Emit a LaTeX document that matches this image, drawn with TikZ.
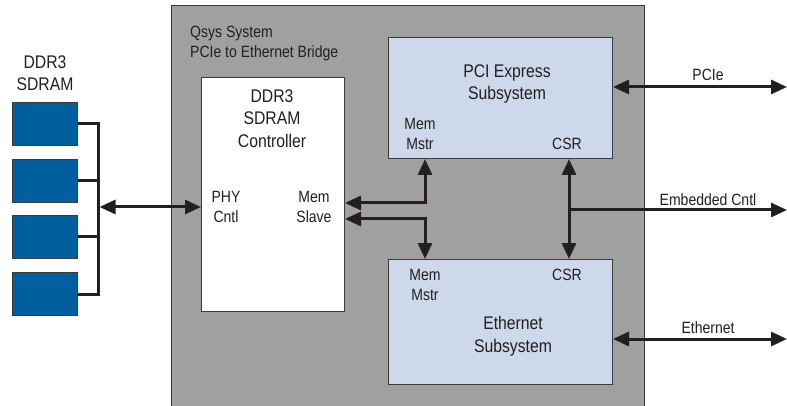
\documentclass[tikz,border=0pt]{standalone}
\usepackage{fontspec}
\setmainfont{Liberation Sans}[FakeStretch=0.86]
\usetikzlibrary{arrows.meta}
\definecolor{qgray}{HTML}{A0A0A0}
\definecolor{chipblue}{HTML}{005F9E}
\definecolor{subblue}{HTML}{CDD8EA}
\definecolor{ink}{HTML}{231F20}
\definecolor{edge}{HTML}{3A3A3A}
\begin{document}
\begin{tikzpicture}[x=1pt,y=-1pt,
  boxstyle/.style={draw=edge,line width=1pt,anchor=north west,inner sep=0pt},
  chip/.style={boxstyle,fill=chipblue,minimum width=65pt,minimum height=43pt},
  title/.style={font=\fontsize{18.3}{22.5}\selectfont,align=center,inner sep=0pt,text=ink},
  lbl/.style={font=\fontsize{16.3}{20}\selectfont,align=center,inner sep=0pt,text=ink},
  conn/.style={draw=ink,line width=3pt,{Triangle[length=16pt,width=14pt]}-{Triangle[length=16pt,width=14pt]}},
  connr/.style={draw=ink,line width=3pt,-{Triangle[length=16pt,width=14pt]}},
  bus/.style={draw=ink,line width=3pt,line cap=rect}]
\useasboundingbox (0,0) rectangle (787,406);
\fill[white] (0,0) rectangle (787,406);
% Qsys system
\node[boxstyle,fill=qgray,minimum width=473pt,minimum height=460pt] (qsys) at (171,5) {};
\node[lbl,align=left,anchor=west] (qsystxt) at (190,44) {Qsys System\\PCIe to Ethernet Bridge};
% controller
\node[boxstyle,fill=white,minimum width=143pt,minimum height=234pt] (ctrl) at (201,77) {};
\node[title] (ctrltxt) at (272,118.5) {DDR3\\SDRAM\\Controller};
\node[lbl] (phy) at (226,207) {PHY\\Cntl};
\node[lbl] (memslave) at (314,207) {Mem\\Slave};
% PCIe subsystem
\node[boxstyle,fill=subblue,minimum width=224pt,minimum height=121pt] (pcie) at (388,37) {};
\node[title] (pcietxt) at (507,84) {PCI Express\\Subsystem};
\node[lbl] (pmm) at (420,133.5) {Mem\\Mstr};
\node[lbl] (pcsr) at (567,144) {CSR};
% Ethernet subsystem
\node[boxstyle,fill=subblue,minimum width=224pt,minimum height=125pt] (eth) at (388,259) {};
\node[title] (ethtxt) at (513,336.5) {Ethernet\\Subsystem};
\node[lbl] (emm) at (425,285) {Mem\\Mstr};
\node[lbl] (ecsr) at (567,275) {CSR};
% DDR3 chips
\node[title] (ddrtxt) at (45,73) {DDR3\\SDRAM};
\node[chip] (c1) at (12,102) {};
\node[chip] (c2) at (12,159) {};
\node[chip] (c3) at (12,215) {};
\node[chip] (c4) at (12,272) {};
% helper coordinates
\coordinate (busx) at (98,0);
\coordinate (phyy) at (0,207);
\coordinate (y1) at (0,203);
\coordinate (y2) at (0,219);
\coordinate (xm) at (425,0);
\coordinate (xc) at (569,0);
\coordinate (pcieout) at (787,87);
\coordinate (ecout) at (787,210);
\coordinate (ethout) at (787,339);
% bus
\draw[bus] (c1.east) -- (c1.east -| busx) -- (c4.east -| busx) -- (c4.east);
\draw[bus] (c2.east) -- (c2.east -| busx);
\draw[bus] (c3.east) -- (c3.east -| busx);
\draw[conn] ([xshift=1.5pt]busx |- phyy) -- (ctrl.west |- phyy);
% internal connections
\draw[conn] (ctrl.east |- y1) -| (pcie.south -| xm);
\draw[conn] (ctrl.east |- y2) -| (eth.north -| xm);
\draw[conn] (pcie.south -| xc) -- (eth.north -| xc);
\draw[connr] (xc |- ecout) -- (ecout);
% external
\draw[conn] (pcie.east |- pcieout) -- (pcieout);
\draw[conn] (eth.east |- ethout) -- (ethout);
\node[lbl] (pcielbl) at (708,75) {PCIe};
\node[lbl] (eclbl) at (708,200) {Embedded Cntl};
\node[lbl] (ethlbl) at (708,328) {Ethernet};
\end{tikzpicture}
\end{document}
